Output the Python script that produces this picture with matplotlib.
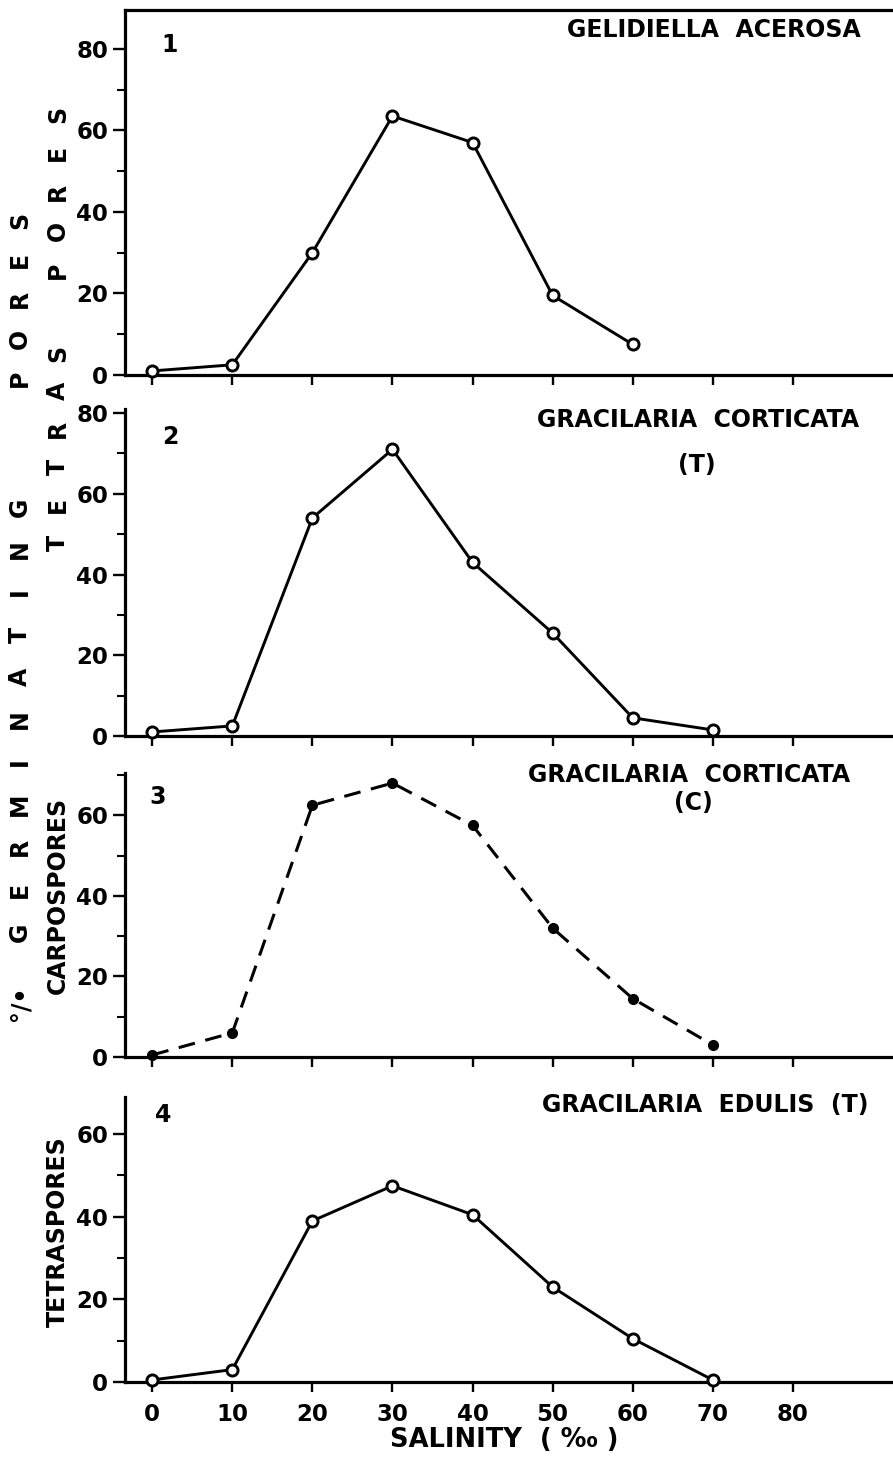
import numpy as np
import matplotlib.pyplot as plt
from matplotlib.ticker import MultipleLocator

W, H = 893, 1461

salinity = [0, 10, 20, 30, 40, 50, 60, 70]

gelidiella = [1, 2.5, 30, 63.5, 57, 19.5, 7.5]
corticata_t = [1, 2.5, 54, 71, 43, 25.5, 4.5, 1.5]
corticata_c = [0.5, 6, 62.5, 68, 57.5, 32, 14.5, 3]
edulis_t = [0.5, 3, 39, 47.5, 40.5, 23, 10.5, 0.5]

x_ticks = [0, 10, 20, 30, 40, 50, 60, 70, 80]

plt.rcParams['font.family'] = ['DejaVu Sans']
plt.rcParams['font.weight'] = 'bold'

fig = plt.figure(figsize=(W / 100, H / 100), dpi=100)


def px_axes(top, bottom, left=125, right=893):
    return fig.add_axes([left / W, 1 - bottom / H, (right - left) / W, (bottom - top) / H])


def ftext(x, y, s, **kw):
    fig.text(x / W, 1 - y / H, s, **kw)


def style_axes(ax, ytop, show_top=False, show_xlabels=False):
    ax.set_xlim(-3.4, 92.5)
    ax.set_ylim(0, ytop)
    ax.set_xticks(x_ticks)
    ax.yaxis.set_major_locator(MultipleLocator(20))
    ax.yaxis.set_minor_locator(MultipleLocator(10))
    ax.spines["right"].set_visible(False)
    ax.spines["top"].set_visible(show_top)
    for side in ["left", "bottom", "top"]:
        ax.spines[side].set_linewidth(2.3)
    ax.tick_params(axis="y", which="major", direction="out", length=9, width=1.7,
                   labelsize=16.5, pad=3)
    ax.tick_params(axis="y", which="minor", direction="out", length=6, width=1.5)
    ax.tick_params(axis="x", which="major", direction="out", length=7, width=1.7,
                   labelsize=16.5, pad=8, labelbottom=show_xlabels)
    for lab in ax.get_yticklabels() + ax.get_xticklabels():
        lab.set_fontweight("bold")


solid = dict(color="black", lw=2.1, marker="o", markersize=8,
             markerfacecolor="white", markeredgecolor="black", markeredgewidth=2.1,
             clip_on=False, zorder=3)

# panel 1
ax1 = px_axes(10, 375)
ax1.plot(salinity[:len(gelidiella)], gelidiella, **solid)
style_axes(ax1, 89.5, show_top=True)

# panel 2
ax2 = px_axes(409, 736)
ax2.plot(salinity, corticata_t, **solid)
style_axes(ax2, 81)

# panel 3
ax3 = px_axes(773, 1057)
ax3.plot(salinity, corticata_c, color="black", lw=2.2, linestyle=(0, (5.5, 3.5)),
         marker="o", markersize=7, markerfacecolor="black", markeredgecolor="black",
         clip_on=False, zorder=3)
style_axes(ax3, 70.5)

# panel 4
ax4 = px_axes(1097, 1382)
ax4.plot(salinity, edulis_t, **solid)
style_axes(ax4, 69, show_xlabels=True)

# species labels and panel numbers
tkw = dict(fontsize=17, fontweight="bold", ha="center", va="center")
ftext(714, 30, "GELIDIELLA  ACEROSA", **tkw)
ftext(698, 420, "GRACILARIA  CORTICATA", **tkw)
ftext(697, 465, "(T)", **tkw)
ftext(689, 775, "GRACILARIA  CORTICATA", **tkw)
ftext(693, 803, "(C)", **tkw)
ftext(705, 1105, "GRACILARIA  EDULIS  (T)", **tkw)

ftext(170, 45, "1", **tkw)
ftext(170, 437, "2", **tkw)
ftext(158, 797, "3", **tkw)
ftext(163, 1115, "4", **tkw)

ftext(504, 1440, "SALINITY  ( \u2030 )", fontsize=18.5, fontweight="bold",
      ha="center", va="center")

# outer spaced y label
lkw = dict(fontsize=17, fontweight="bold", rotation=90, ha="center", va="center")
ftext(20, 1003, "\u00b0/\u2022", **lkw)
for i, ch in enumerate("GERMINATING"):
    ftext(20, 932 - i * 42.5, ch, **lkw)
for i, ch in enumerate("PORES"):
    ftext(20, 378 - i * 39.5, ch, **lkw)

# inner label for panels 1 and 2
for i, ch in enumerate("TETRAS"):
    ftext(58, 543 - i * 38, ch, **lkw)
for i, ch in enumerate("PORES"):
    ftext(58, 270 - i * 39, ch, **lkw)

ftext(58, 895, "CARPOSPORES", fontsize=17, fontweight="bold", rotation=90,
      ha="center", va="center")
ftext(58, 1232, "TETRASPORES", fontsize=17, fontweight="bold", rotation=90,
      ha="center", va="center")

fig.savefig("out.png", dpi=100)
